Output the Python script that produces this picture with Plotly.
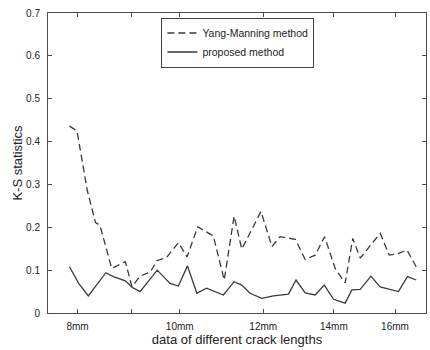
import math
import plotly.graph_objects as go

# ---- data ----
yang_x = [7.86, 7.99, 8.17, 8.32, 8.40, 8.62, 8.88, 9.01, 9.17, 9.38, 9.51, 9.72,
          9.97, 10.16, 10.40, 10.76, 11.02, 11.26, 11.45, 11.94, 12.23, 12.45,
          12.87, 13.15, 13.44, 13.72, 14.04, 14.35, 14.59, 14.83, 15.49, 15.80,
          16.08, 16.42, 16.76]
yang_y = [0.436, 0.425, 0.287, 0.211, 0.205, 0.104, 0.120, 0.061, 0.086, 0.096,
          0.122, 0.130, 0.164, 0.131, 0.201, 0.180, 0.077, 0.226, 0.149, 0.237,
          0.155, 0.178, 0.172, 0.125, 0.135, 0.178, 0.104, 0.070, 0.174, 0.128,
          0.186, 0.135, 0.138, 0.147, 0.108]

prop_x = [7.86, 8.02, 8.19, 8.51, 8.65, 8.88, 9.01, 9.17, 9.52, 9.79, 9.97,
          10.17, 10.38, 10.60, 11.00, 11.26, 11.45, 11.66, 11.96, 12.27, 12.68,
          12.89, 13.15, 13.44, 13.71, 13.99, 14.35, 14.56, 14.83, 15.18, 15.49,
          16.12, 16.44, 16.76]
prop_y = [0.108, 0.069, 0.040, 0.094, 0.085, 0.075, 0.060, 0.050, 0.100, 0.069,
          0.063, 0.110, 0.046, 0.058, 0.042, 0.073, 0.065, 0.046, 0.034, 0.040,
          0.044, 0.077, 0.047, 0.042, 0.065, 0.032, 0.023, 0.054, 0.055, 0.086,
          0.061, 0.050, 0.085, 0.077]

x_tickvals = [8, 9, 10, 12, 14, 16]
x_ticktext = ["8mm", "", "10mm", "12mm", "14mm", "16mm"]
y_tickvals = [0, 0.1, 0.2, 0.3, 0.4, 0.5, 0.6, 0.7]

line_col = "#3a3a3a"
axis_col = "#4d4d4d"
font_fam = "Arial, Liberation Sans, Helvetica, sans-serif"

fig = go.Figure()
fig.add_trace(go.Scatter(x=yang_x, y=yang_y, mode="lines", name="Yang-Manning method",
                         line=dict(color=line_col, width=1.3, dash="7px,4px")))
fig.add_trace(go.Scatter(x=prop_x, y=prop_y, mode="lines", name="proposed method",
                         line=dict(color=line_col, width=1.3)))

fig.update_layout(
    width=430, height=350,
    margin=dict(l=48, r=4, t=13, b=37),
    paper_bgcolor="white", plot_bgcolor="white",
    font=dict(family=font_fam, color="#222222", size=10),
    showlegend=True,
    legend=dict(x=0.30, y=0.985, xanchor="left", yanchor="top",
                bordercolor="#444444", borderwidth=1, bgcolor="white",
                font=dict(size=10.5, family=font_fam, color="#222222"),
                tracegroupgap=0, itemwidth=30),
)
fig.update_xaxes(
    type="log", range=[math.log10(7.5), math.log10(17.12)],
    tickvals=x_tickvals, ticktext=x_ticktext,
    ticks="inside", ticklen=4, tickcolor=axis_col,
    showline=True, linecolor=axis_col, linewidth=1, mirror="ticks",
    showgrid=False, zeroline=False,
    tickfont=dict(size=10), ticklabelstandoff=4,
    title=dict(text="data of different crack lengths", font=dict(size=13), standoff=3),
)
fig.update_yaxes(
    range=[0, 0.7], tickvals=y_tickvals,
    ticks="inside", ticklen=4, tickcolor=axis_col,
    showline=True, linecolor=axis_col, linewidth=1, mirror="ticks",
    showgrid=False, zeroline=False,
    tickfont=dict(size=10), ticklabelstandoff=5,
    title=dict(text="K-S statistics", font=dict(size=13), standoff=0),
)

fig.write_html("out.html")
